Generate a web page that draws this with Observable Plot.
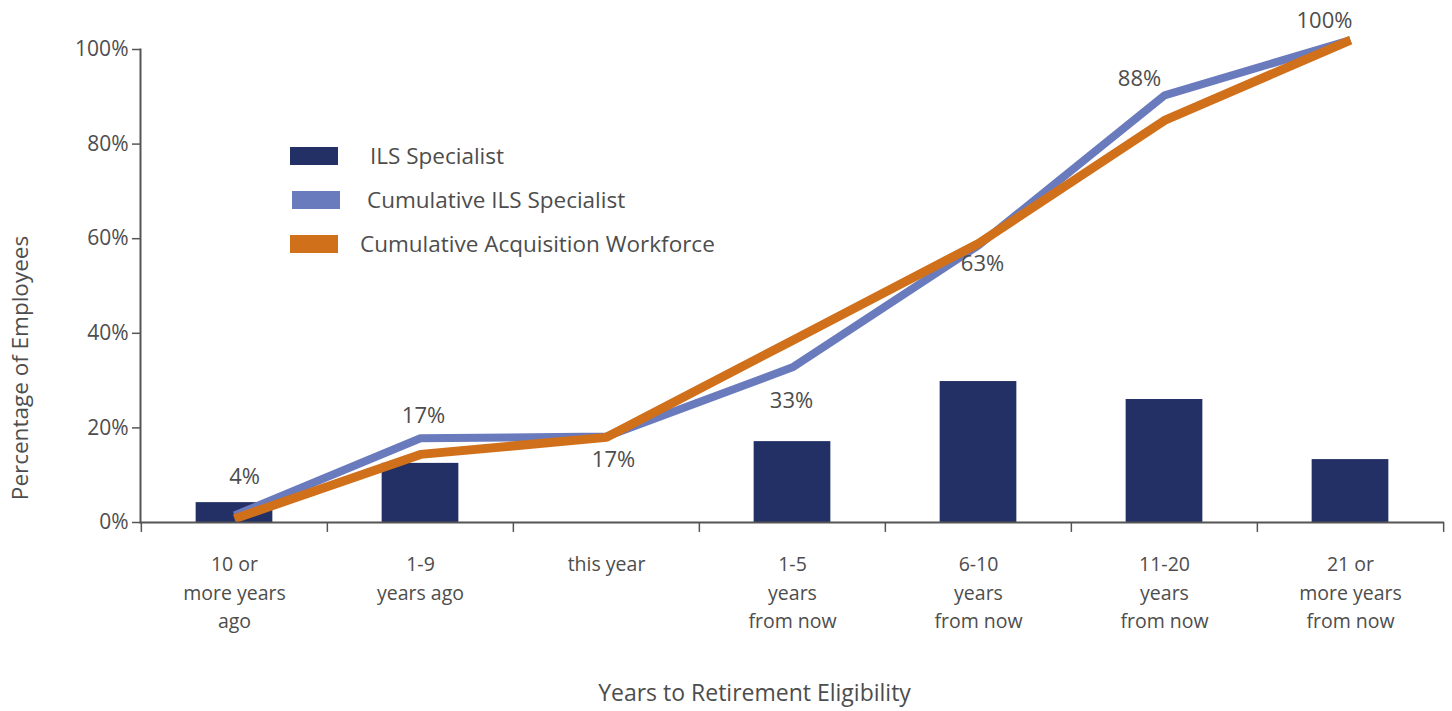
<!DOCTYPE html>
<html>
<head>
<meta charset="utf-8">
<script src="https://cdn.jsdelivr.net/npm/d3@7"></script>
<script src="https://cdn.jsdelivr.net/npm/@observablehq/plot@0.6"></script>
<style>
  html, body { margin: 0; padding: 0; background: #fff; }
  #wrap { position: relative; width: 1452px; height: 711px; font-family: "Open Sans", sans-serif; }
  .legend { position: absolute; left: 290px; top: 143px; color: #4d4d4d; font-size: 22.5px; }
  .legend .row { position: relative; height: 44px; }
  .legend .sw { position: absolute; left: 0; top: 4px; width: 48px; height: 18px; }
  .legend .lb { position: absolute; top: -3px; white-space: nowrap; }
</style>
</head>
<body>
<div id="wrap"></div>
<script>
const categories = ["10 or more years ago", "1-9 years ago", "this year", "1-5 years from now", "6-10 years from now", "11-20 years from now", "21 or more years from now"];
const tickLabels = ["10 or\nmore years\nago", "1-9\nyears ago", "this year", "1-5\nyears\nfrom now", "6-10\nyears\nfrom now", "11-20\nyears\nfrom now", "21 or\nmore years\nfrom now"];
const ilsSpecialist = [4.2, 12.5, 0, 17.1, 29.8, 26.0, 13.3];
const cumulativeIls = [1.5, 17.8, 18.2, 32.8, 58.6, 90.3, 102];
const cumulativeAcq = [0.8, 14.4, 18.0, 38.5, 59.0, 85.0, 102];
const pointLabels = ["4%", "17%", "17%", "33%", "63%", "88%", "100%"];
const yTicks = [0, 20, 40, 60, 80, 100];
const seriesNames = ["ILS Specialist", "Cumulative ILS Specialist", "Cumulative Acquisition Workforce"];

// label offsets (px) relative to the Cumulative ILS Specialist point
const labelOffsets = [[10, -38], [3, -22], [7, 24], [-1, 34], [4, 19], [-25, -16], [-26, -19]];

const colors = {bar: "#233066", blue: "#6A7BBD", orange: "#D0701A", text: "#4d4d4d", axis: "#555555"};

const barData = categories.map((c, i) => ({c, v: ilsSpecialist[i]}));
const blueData = categories.map((c, i) => ({c, v: cumulativeIls[i]}));
const orangeData = categories.map((c, i) => ({c, v: cumulativeAcq[i]}));

const width = 1452, height = 711;
const marginLeft = 140, marginRight = 8, marginTop = 49, marginBottom = 189;
const bandwidth = (width - marginLeft - marginRight) / categories.length;

const labelMarks = categories.map((c, i) =>
  Plot.text([{c, v: cumulativeIls[i], t: pointLabels[i]}], {
    x: "c", y: "v", text: "t", dx: labelOffsets[i][0], dy: labelOffsets[i][1],
    fontSize: 22, fill: colors.text
  })
);

const chart = Plot.plot({
  width, height, marginLeft, marginRight, marginTop, marginBottom,
  style: {fontFamily: "'Open Sans', sans-serif", color: colors.text, background: "white", overflow: "visible"},
  x: {domain: categories, padding: 0, axis: null},
  y: {domain: [0, 100], axis: null},
  marks: [
    Plot.barY(barData, {x: "c", y: "v", fill: colors.bar, insetLeft: (bandwidth - 77) / 2, insetRight: (bandwidth - 77) / 2}),
    Plot.line(blueData, {x: "c", y: "v", stroke: colors.blue, strokeWidth: 8, strokeLinejoin: "miter", strokeLinecap: "butt"}),
    Plot.line(orangeData, {x: "c", y: "v", stroke: colors.orange, strokeWidth: 9, strokeLinejoin: "miter", strokeLinecap: "butt"}),
    ...labelMarks,
    // axes
    Plot.ruleY([0], {stroke: colors.axis, strokeWidth: 2}),
    Plot.frame({anchor: "left", stroke: colors.axis, strokeWidth: 2}),
    Plot.axisY({ticks: yTicks, tickFormat: d => d + "%", tickSize: 8, tickPadding: 4, fontSize: 21, label: null, stroke: colors.axis, strokeWidth: 1.5}),
    Plot.ruleX(categories, {x: d => d, y1: 0, y2: -2.1, dx: -bandwidth / 2, stroke: colors.axis, strokeWidth: 1.5}),
    Plot.ruleX(categories.slice(-1), {x: d => d, y1: 0, y2: -2.1, dx: bandwidth / 2, stroke: colors.axis, strokeWidth: 1.5}),
    Plot.text(categories, {x: d => d, y: 0, text: (d, i) => tickLabels[i], dy: 28, lineAnchor: "top", lineHeight: 1.47, fontSize: 19.5, fill: colors.text}),
    Plot.text(["Years to Retirement Eligibility"], {frameAnchor: "bottom", textAnchor: "middle", lineAnchor: "middle", dx: -38, dy: 171, fontSize: 23, fill: colors.text}),
    Plot.text(["Percentage of Employees"], {frameAnchor: "left", textAnchor: "middle", lineAnchor: "middle", rotate: -90, dx: -120, dy: 82, fontSize: 22.5, fill: colors.text})
  ]
});

const wrap = document.getElementById("wrap");
wrap.appendChild(chart);

const legend = document.createElement("div");
legend.className = "legend";
const swatchColors = [colors.bar, colors.blue, colors.orange];
const labelLefts = [80, 77, 70];
seriesNames.forEach((name, i) => {
  const row = document.createElement("div");
  row.className = "row";
  const sw = document.createElement("div");
  sw.className = "sw";
  sw.style.background = swatchColors[i];
  if (i === 1) sw.style.left = "2px";
  const lb = document.createElement("div");
  lb.className = "lb";
  lb.style.left = labelLefts[i] + "px";
  lb.textContent = name;
  row.appendChild(sw);
  row.appendChild(lb);
  legend.appendChild(row);
});
wrap.appendChild(legend);
</script>
</body>
</html>
